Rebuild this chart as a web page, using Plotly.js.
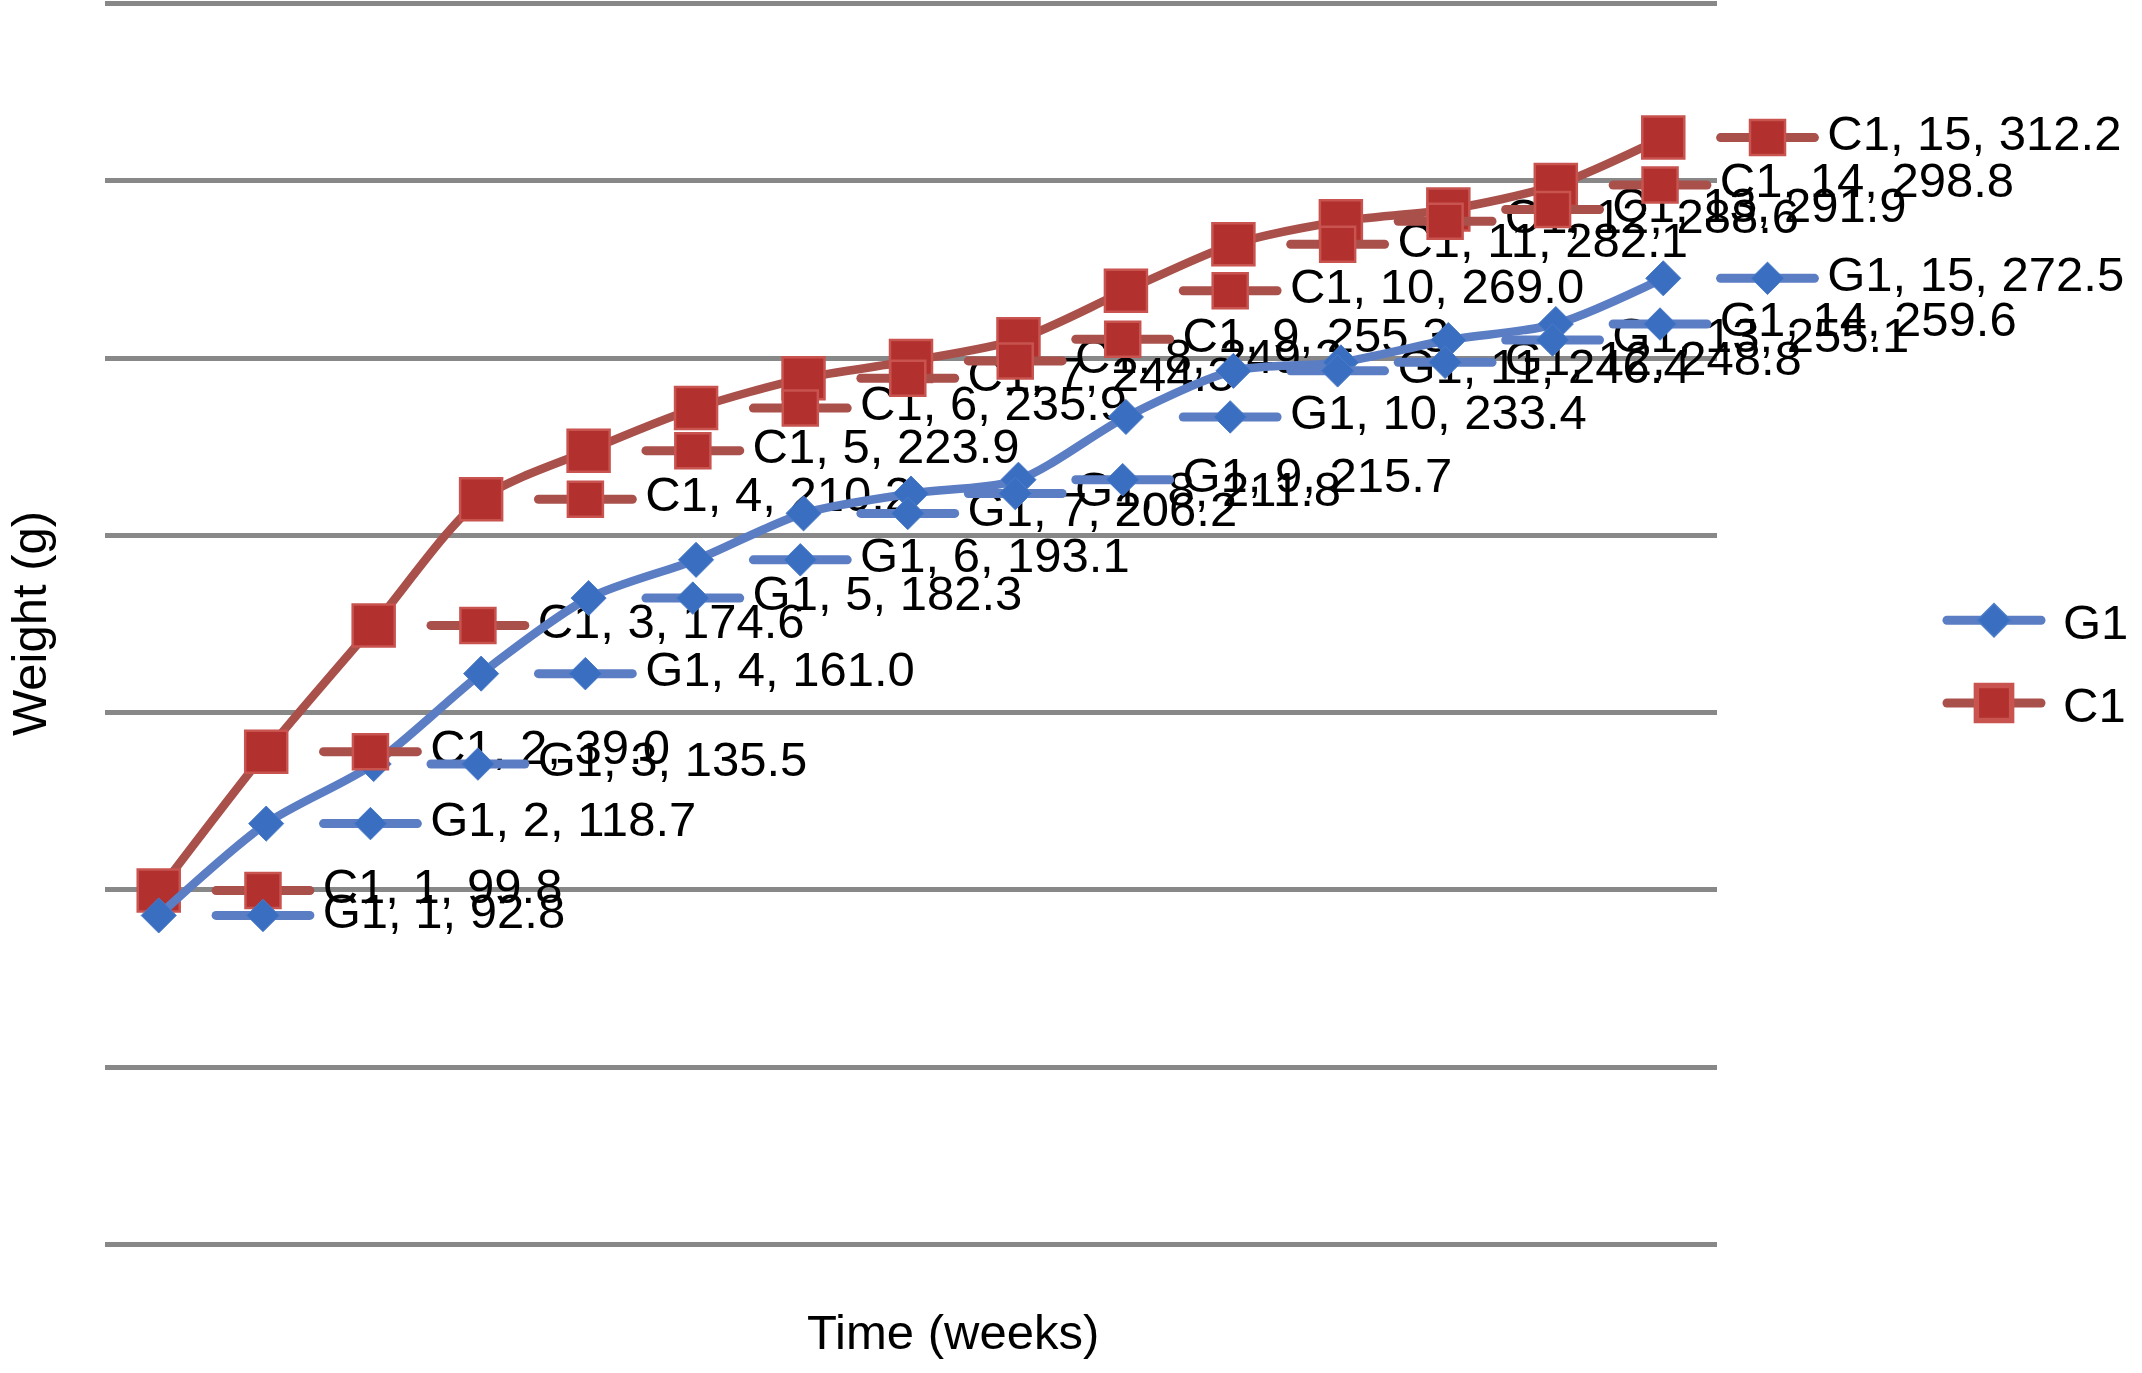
<!DOCTYPE html>
<html>
<head>
<meta charset="utf-8">
<script src="https://cdn.plot.ly/plotly-3.0.1.min.js"></script>
<style>
html,body{margin:0;padding:0;background:#ffffff;}
#chart{width:2142px;height:1373px;}
</style>
</head>
<body>
<div id="chart"></div>
<script>
// ---------- data ----------
var weeks = [1, 2, 3, 4, 5, 6, 7, 8, 9, 10, 11, 12, 13, 14, 15];
var seriesNames = ['G1', 'C1'];
var G1 = [92.8, 118.7, 135.5, 161.0, 182.3, 193.1, 206.2, 211.8, 215.7, 233.4, 246.4, 248.8, 255.1, 259.6, 272.5];
var C1 = [99.8, 139.0, 174.6, 210.2, 223.9, 235.9, 244.3, 249.2, 255.3, 269.0, 282.1, 288.6, 291.9, 298.8, 312.2];
// value part of each data label as printed in the figure
var G1_labels = ['92.8', '118.7', '135.5', '161.0', '182.3', '193.1', '206.2', '211.8', '215.7', '233.4', '246.4', '248.8', '255.1', '259.6', '272.5'];
var C1_labels = ['99.8', '39.0', '174.6', '210.2', '223.9', '235.9', '244.3', '249.2', '255.3', '269.0', '282.1', '288.6', '291.9', '298.8', '312.2'];
var xTitle = 'Time (weeks)';
var yTitle = 'Weight (g)';

// ---------- styles ----------
var FONT = '"Liberation Sans", Arial, Helvetica, sans-serif';
var FS = 49;
var STY = {
  G1: {line: '#5b7dc4', fill: '#3a6ec0', edge: '#4a7bc8', symbol: 'diamond', size: 27, keySize: 25, edgeW: 1},
  C1: {line: '#a9504b', fill: '#b2302e', edge: '#c8534f', symbol: 'square', size: 42, keySize: 35, edgeW: 2.5}
};
var KEY_SHIFT = 0.97;     // data label key sits one category to the right
var KEY_LINE_SIZE = 67;   // line-ew marker size (length = 1.4*size)
var TEXT_GAP_SIZE = 94;   // invisible marker that pushes the label text to the right

// plot geometry: gridded area is 1612 px wide, the label layer spans the full paper (2037 px)
var PLOT_W = 1612, PAPER_W = 2037;
var X_MIN = 0.5, N_CAT = 15;

function labelTexts(name, labels) {
  return weeks.map(function (w, i) { return name + ', ' + w + ', ' + labels[i]; });
}
function keyX() { return weeks.map(function (w) { return w + KEY_SHIFT; }); }

function textTrace(name, vals, labels) {
  return {
    type: 'scatter', mode: 'markers+text', x: keyX(), y: vals, xaxis: 'x2', yaxis: 'y2',
    text: labelTexts(name, labels), textposition: 'middle right',
    textfont: {family: FONT, size: FS, color: '#000000'},
    marker: {size: TEXT_GAP_SIZE, color: 'rgba(0,0,0,0)', line: {width: 0}},
    cliponaxis: false, showlegend: false, hoverinfo: 'skip'
  };
}
function dataTrace(name, vals, rank) {
  var s = STY[name];
  return {
    type: 'scatter', mode: 'lines+markers', name: name, x: weeks, y: vals, xaxis: 'x2', yaxis: 'y2',
    line: {color: s.line, width: 8.5, shape: 'spline', smoothing: 0.8},
    marker: {symbol: s.symbol, size: s.size, color: s.fill, line: {color: s.edge, width: s.edgeW}},
    legendrank: rank, legendgroup: name, cliponaxis: false
  };
}
function keyLineTrace(name, vals) {
  var s = STY[name];
  return {
    type: 'scatter', mode: 'markers', x: keyX(), y: vals, xaxis: 'x2', yaxis: 'y2',
    marker: {symbol: 'line-ew', size: KEY_LINE_SIZE, color: s.line, line: {color: s.line, width: 9}},
    cliponaxis: false, showlegend: false, hoverinfo: 'skip'
  };
}
function keySymTrace(name, vals) {
  var s = STY[name];
  return {
    type: 'scatter', mode: 'markers', x: keyX(), y: vals, xaxis: 'x2', yaxis: 'y2',
    marker: {symbol: s.symbol, size: s.keySize, color: s.fill, line: {color: s.edge, width: s.edgeW}},
    cliponaxis: false, showlegend: false, hoverinfo: 'skip'
  };
}

var traces = [
  // empty trace that keeps the gridded subplot (x/y) alive
  {type: 'scatter', mode: 'markers', x: [], y: [], xaxis: 'x', yaxis: 'y', showlegend: false, hoverinfo: 'skip'},
  textTrace('C1', C1, C1_labels),
  textTrace('G1', G1, G1_labels),
  dataTrace('C1', C1, 2),
  dataTrace('G1', G1, 1),
  keyLineTrace('C1', C1),
  keySymTrace('C1', C1),
  keyLineTrace('G1', G1),
  keySymTrace('G1', G1)
];

var Y_RANGE = [-1, 351];
var layout = {
  width: 2142, height: 1373,
  margin: {l: 105, r: 0, t: 0, b: 125, pad: 0},
  paper_bgcolor: '#ffffff', plot_bgcolor: 'rgba(0,0,0,0)',
  font: {family: FONT, size: FS, color: '#000000'},
  // gridded subplot
  xaxis: {
    domain: [0, PLOT_W / PAPER_W], range: [X_MIN, X_MIN + N_CAT], anchor: 'y',
    showgrid: false, zeroline: false, showline: false, showticklabels: false, ticks: ''
  },
  yaxis: {
    domain: [0, 1], range: Y_RANGE, anchor: 'x', tick0: 0, dtick: 50,
    showgrid: true, gridcolor: '#888888', gridwidth: 5,
    zeroline: false, showline: false, showticklabels: false, ticks: ''
  },
  // same scale, wider area so the data labels right of week 15 are drawn
  xaxis2: {
    domain: [0, 1], range: [X_MIN, X_MIN + N_CAT * PAPER_W / PLOT_W], anchor: 'y2',
    showgrid: false, zeroline: false, showline: false, showticklabels: false, ticks: ''
  },
  yaxis2: {
    domain: [0, 1], range: Y_RANGE, anchor: 'x2',
    showgrid: false, zeroline: false, showline: false, showticklabels: false, ticks: ''
  },
  showlegend: true,
  legend: {
    x: (1934 - 105) / PAPER_W, xanchor: 'left', y: 0.5337, yanchor: 'top',
    font: {family: FONT, size: FS, color: '#000000'},
    bgcolor: 'rgba(0,0,0,0)', borderwidth: 0, itemwidth: 119,
    traceorder: 'grouped', tracegroupgap: 16
  },
  annotations: [
    {text: xTitle, xref: 'paper', yref: 'paper', x: (953 - 105) / PAPER_W, y: -0.0673, xanchor: 'center', yanchor: 'middle',
     showarrow: false, font: {family: FONT, size: FS, color: '#000000'}},
    {text: yTitle, xref: 'paper', yref: 'paper', x: (29 - 105) / PAPER_W, y: 0.5, xanchor: 'center', yanchor: 'middle',
     textangle: -90, showarrow: false, font: {family: FONT, size: FS, color: '#000000'}}
  ]
};

var gd = document.getElementById('chart');
var KEY_CX = 60, KEY_HALF = 47, TEXT_DX = 69;

function finish() {
  // enlarge legend keys to match the Excel-style keys
  gd.querySelectorAll('.legend .traces').forEach(function (it) {
    var d = it.__data__;
    var tr = d && d[0] && d[0].trace;
    var isSquare = tr && tr.marker && tr.marker.symbol === 'square';
    var ln = it.querySelector('.legendlines path');
    if (ln) {
      ln.setAttribute('d', 'M' + (KEY_CX - KEY_HALF) + ',0h' + (2 * KEY_HALF));
      ln.style.strokeWidth = '9px';
      ln.style.strokeLinecap = 'round';
    }
    it.querySelectorAll('.legendpoints path').forEach(function (p) {
      p.setAttribute('transform', 'translate(' + KEY_CX + ',0) scale(' + (isSquare ? 2.2 : 1.6) + ')');
    });
    var tx = it.querySelector('.legendtext');
    if (tx) tx.setAttribute('x', KEY_CX + TEXT_DX);
  });
  // round caps on the data-label key lines
  gd.querySelectorAll('.scatterlayer .trace').forEach(function (g) {
    var d = g.__data__;
    var tr = d && d[0] && d[0].trace;
    if (tr && tr.marker && tr.marker.symbol === 'line-ew') {
      g.querySelectorAll('path.point').forEach(function (p) { p.style.strokeLinecap = 'round'; });
    }
  });
}

Plotly.newPlot(gd, traces, layout, {staticPlot: true, displayModeBar: false}).then(finish);
</script>
</body>
</html>
